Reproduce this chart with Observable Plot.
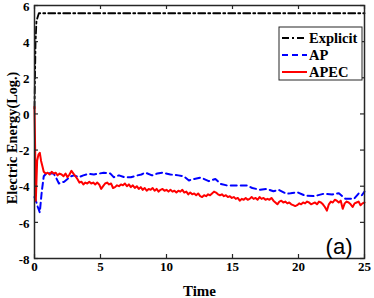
<!DOCTYPE html>
<html><head><meta charset="utf-8">
<script src="https://cdn.jsdelivr.net/npm/d3@7"></script>
<script src="https://cdn.jsdelivr.net/npm/@observablehq/plot@0.6"></script>
<style>body{margin:0;background:#fff} #chart{width:374px;height:298px}</style>
</head><body><div id="chart"></div>
<script>
// ---- data ----
const explicitT = [0, 0.08, 0.15, 0.33, 25];
const explicitV = [0.3, 4.0, 5.15, 5.57, 5.57];

const apT = [0,0.15,0.25,0.4,0.55,0.7,0.95,1.2,1.45,1.65,1.85,2.05,2.25,2.5,2.75,3.0,3.35,3.7,4.1,4.5,4.9,5.25,5.75,6.0,6.4,6.8,7.3,7.8,8.1,8.4,8.9,9.3,9.7,10.3,10.9,11.3,11.7,12.1,12.6,13.2,13.7,14.1,14.6,15.35,16.1,16.5,17.1,17.6,18.1,18.5,19.1,19.4,19.9,20.5,21.2,21.9,22.55,23.06,23.56,24.2,24.57,24.8,25];
const apV = [-4.6,-4.9,-5.15,-5.45,-4.3,-3.45,-3.25,-3.3,-3.3,-3.55,-3.85,-3.8,-3.75,-3.6,-3.45,-3.4,-3.5,-3.4,-3.32,-3.35,-3.3,-3.25,-3.3,-3.5,-3.4,-3.5,-3.5,-3.4,-3.35,-3.25,-3.4,-3.3,-3.25,-3.35,-3.4,-3.45,-3.68,-3.6,-3.52,-3.72,-3.6,-3.87,-3.96,-3.96,-3.96,-4.1,-4.2,-4.15,-4.28,-4.2,-4.42,-4.39,-4.33,-4.52,-4.55,-4.42,-4.46,-4.39,-4.7,-4.7,-4.39,-4.5,-4.3];

const apecT = [0,0.05,0.1,0.2,0.3,0.4,0.5,0.6,0.7,0.85,1.0,1.15,1.3,1.45,1.6,1.75,1.9,2.05,2.2,2.35,2.5,2.65,2.8,2.95,3.1,3.25,3.4,3.55,3.7,3.85,4.0,4.15,4.3,4.45,4.6,4.75,4.9,5.05,5.2,5.35,5.5,5.65,5.8,5.95,6.1,6.25,6.4,6.55,6.7,6.85,7.0,7.15,7.3,7.45,7.6,7.75,7.9,8.05,8.2,8.35,8.5,8.65,8.8,8.95,9.1,9.25,9.4,9.55,9.7,9.85,10.0,10.15,10.3,10.45,10.6,10.75,10.9,11.05,11.2,11.35,11.5,11.65,11.8,11.95,12.1,12.25,12.4,12.55,12.7,12.85,13.0,13.15,13.3,13.45,13.6,13.75,13.9,14.05,14.2,14.35,14.5,14.65,14.8,14.95,15.1,15.25,15.4,15.55,15.7,15.85,16.0,16.15,16.3,16.45,16.6,16.75,16.9,17.05,17.2,17.35,17.5,17.65,17.8,17.95,18.1,18.25,18.4,18.55,18.7,18.85,19.0,19.15,19.3,19.45,19.6,19.75,19.9,20.05,20.2,20.35,20.5,20.65,20.8,20.95,21.1,21.25,21.4,21.55,21.7,21.85,22.0,22.15,22.3,22.45,22.6,22.75,22.9,23.05,23.2,23.35,23.5,23.65,23.8,23.95,24.1,24.25,24.4,24.55,24.7,24.85,25.0];
const apecV = [0.4,-2.0,-4.8,-2.6,-2.25,-2.15,-2.6,-2.9,-3.2,-3.3,-3.25,-3.35,-3.2,-3.3,-3.25,-3.4,-3.3,-3.35,-3.45,-3.3,-3.5,-3.35,-3.15,-3.3,-3.45,-3.6,-3.8,-3.75,-3.9,-3.8,-3.85,-3.75,-3.85,-3.8,-3.9,-3.8,-3.9,-4.15,-4.0,-3.85,-3.8,-3.9,-3.85,-4.1,-4.05,-3.95,-4.0,-3.9,-3.95,-3.85,-4.0,-3.9,-4.05,-3.95,-4.1,-4.0,-4.15,-4.05,-4.2,-4.1,-4.25,-4.15,-4.2,-4.1,-4.25,-4.15,-4.3,-4.2,-4.15,-4.25,-4.2,-4.3,-4.2,-4.3,-4.25,-4.35,-4.25,-4.3,-4.2,-4.35,-4.3,-4.45,-4.35,-4.45,-4.4,-4.5,-4.4,-4.55,-4.6,-4.5,-4.55,-4.45,-4.5,-4.4,-4.3,-4.35,-4.45,-4.5,-4.45,-4.55,-4.5,-4.6,-4.55,-4.65,-4.6,-4.7,-4.65,-4.8,-4.7,-4.75,-4.65,-4.75,-4.7,-4.6,-4.7,-4.65,-4.75,-4.6,-4.7,-4.65,-4.75,-4.7,-4.75,-4.65,-4.8,-4.9,-5.0,-4.85,-4.8,-4.9,-4.85,-4.95,-4.9,-5.0,-5.05,-5.1,-5.05,-4.95,-5.0,-4.9,-4.95,-4.85,-4.9,-5.0,-4.95,-4.9,-5.0,-4.85,-4.9,-5.0,-5.15,-5.35,-5.0,-4.85,-4.9,-4.75,-4.8,-4.9,-4.8,-5.25,-4.95,-4.85,-4.9,-5.0,-5.15,-4.95,-4.9,-4.85,-5.05,-4.95,-4.9];

const xTicks = [0, 5, 10, 15, 20, 25];
const yTicks = [-8, -6, -4, -2, 0, 2, 4, 6];
const seriesNames = ["Explicit", "AP", "APEC"];
const xLabel = "Time";
const yLabel = "Electric Energy(Log.)";
const panelLabel = "(a)";

// ---- build ----
const toRows = (T, V) => T.map((t, i) => ({t, v: V[i]}));
const serif = "'Liberation Serif','Times New Roman',serif";
const W = 374, H = 298, mL = 34, mR = 10, mT = 5, mB = 40;
const innerW = W - mL - mR, innerH = H - mT - mB;
const styles = [
  {stroke: "#000000", strokeWidth: 1.8, strokeDasharray: "7,3,2,3"},
  {stroke: "#0000ff", strokeWidth: 2, strokeDasharray: "6,4"},
  {stroke: "#ff0000", strokeWidth: 2}
];
const tickStyle = {stroke: "#262626", strokeWidth: 1.2};

const plot = Plot.plot({
  width: W, height: H,
  marginLeft: mL, marginRight: mR, marginTop: mT, marginBottom: mB,
  style: {fontFamily: serif, fontWeight: "bold", fontSize: "13px", background: "#fff", color: "#000", overflow: "visible"},
  x: {domain: [0, 25]},
  y: {domain: [-8, 6]},
  marks: [
    Plot.line(toRows(explicitT, explicitV), {x: "t", y: "v", ...styles[0]}),
    Plot.line(toRows(apT, apV), {x: "t", y: "v", ...styles[1]}),
    Plot.line(toRows(apecT, apecV), {x: "t", y: "v", ...styles[2]}),
    // inward ticks on all four sides
    Plot.tickX(xTicks, {x: d => d, insetTop: innerH - 4, ...tickStyle}),
    Plot.tickX(xTicks, {x: d => d, insetBottom: innerH - 4, ...tickStyle}),
    Plot.tickY(yTicks, {y: d => d, insetRight: innerW - 4, ...tickStyle}),
    Plot.tickY(yTicks, {y: d => d, insetLeft: innerW - 4, ...tickStyle}),
    Plot.frame({stroke: "#262626", strokeWidth: 1.5}),
    Plot.axisX(xTicks, {anchor: "bottom", tickSize: 0, tickPadding: 3, tickFormat: d => String(d), label: null, fontSize: 13, fontWeight: "bold"}),
    Plot.axisY(yTicks, {anchor: "left", tickSize: 0, tickPadding: 5, tickFormat: d => String(d), label: null, fontSize: 13, fontWeight: "bold", dy: 1}),
    Plot.text([xLabel], {frameAnchor: "bottom", dy: 33, textAnchor: "middle", lineAnchor: "middle", fontSize: 15, fontWeight: "bold", text: d => d}),
    Plot.text([yLabel], {frameAnchor: "left", dx: -22, dy: 6, rotate: -90, textAnchor: "middle", lineAnchor: "middle", fontSize: 14.3, fontWeight: "bold", text: d => d}),
    Plot.text([panelLabel], {frameAnchor: "bottom-right", dx: -12, dy: -5, textAnchor: "end", lineAnchor: "bottom", fontSize: 22, fontWeight: "normal", fontFamily: "'Liberation Sans',Arial,sans-serif", text: d => d})
  ]
});
document.getElementById("chart").appendChild(plot);

// ---- legend (inside the axes, top-right) ----
const svg = d3.select(plot);
const lg = svg.append("g").attr("text-anchor", "start");
const bx = 279, by = 27, bw = 83, bh = 53;
lg.append("rect").attr("x", bx).attr("y", by).attr("width", bw).attr("height", bh)
  .attr("fill", "#fff").attr("stroke", "#262626").attr("stroke-width", 1);
seriesNames.forEach((name, i) => {
  const yy = by + 11 + i * 17;
  const s = styles[i];
  lg.append("line").attr("x1", bx + 3).attr("x2", bx + 28).attr("y1", yy).attr("y2", yy)
    .attr("stroke", s.stroke).attr("stroke-width", s.strokeWidth)
    .attr("stroke-dasharray", s.strokeDasharray || null);
  lg.append("text").attr("x", bx + 30).attr("y", yy).attr("dy", "0.35em")
    .attr("text-anchor", "start")
    .attr("font-family", serif).attr("font-weight", "bold").attr("font-size", 14.5)
    .attr("fill", "#000").text(name);
});
</script>
</body></html>
